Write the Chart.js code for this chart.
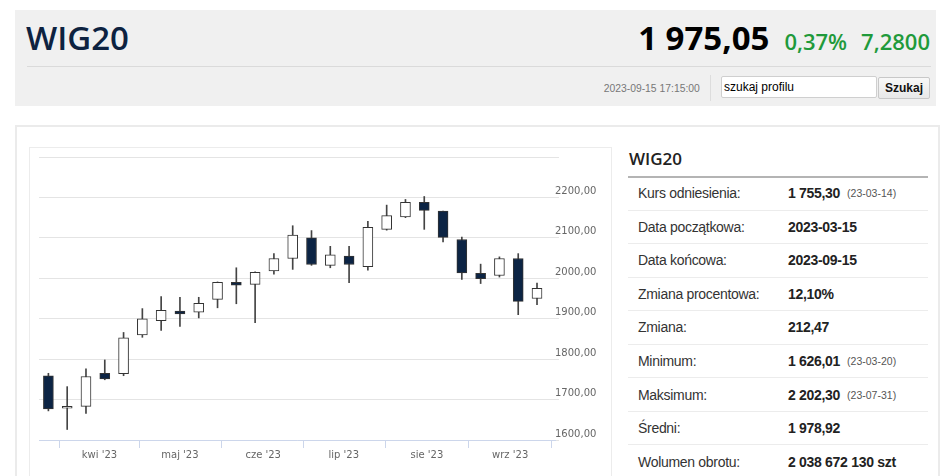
<!DOCTYPE html>
<html lang="pl">
<head>
<meta charset="utf-8">
<script src="https://cdn.jsdelivr.net/npm/chart.js@4/dist/chart.umd.min.js"></script>
<style>
html,body{margin:0;padding:0;background:#fff;width:948px;height:476px;overflow:hidden;font-family:"Liberation Sans",Arial,sans-serif;}
.abs{position:absolute;}
#hdr{left:15px;top:10px;width:921px;height:96px;background:#f0f0f0;}
#title{left:26px;top:18px;font-family:"Open Sans";font-weight:600;font-size:33px;line-height:40px;color:#0d2240;white-space:nowrap;}
#quote{right:18px;top:18px;font-family:"Open Sans";line-height:40px;white-space:nowrap;}
#quote .big{font-weight:700;font-size:33px;color:#000;}
#quote .grn{font-weight:600;font-size:22px;color:#1f9a3b;}
#sep{left:27px;top:66px;width:904px;height:1px;background:#dadada;}
#ts{right:248px;top:80px;font-size:11.5px;color:#777;line-height:16px;white-space:nowrap;transform:scaleX(0.9);transform-origin:right center;}
#vsep{left:710px;top:75px;width:1px;height:26px;background:#dddddd;}
#inp{left:721px;top:76px;width:152px;height:20px;border:1px solid #cfcfcf;border-radius:2px;background:#fff;font-size:12px;line-height:20px;color:#000;padding-left:2px;white-space:nowrap;}
#btn{left:878px;top:77px;width:50px;height:20px;border:1px solid #c8c8c8;border-radius:2px;background:linear-gradient(#f8f8f8,#e8e8e8);font-size:12px;font-weight:bold;line-height:20px;text-align:center;color:#111;}
#outer{left:15px;top:125px;width:921px;height:400px;border:2px solid #ebebeb;}
#cbox{left:29px;top:147px;width:581px;height:400px;border:1px solid #ececec;}
#cv{left:30px;top:148px;}
#ptitle{left:629px;top:149px;font-family:"Open Sans";font-weight:600;font-size:17px;line-height:20px;color:#222;}
#pline{left:628px;top:176px;width:300px;height:2px;background:#b4b4b4;}
#tbl{left:628px;top:177px;width:300px;}
.row{height:32.55px;border-bottom:1px solid #ececec;display:flex;align-items:center;font-size:14px;letter-spacing:-0.3px;color:#333;}
.row .l{width:150px;padding-left:10px;}
.row .v{font-weight:bold;color:#222;}
.row .d{font-size:10.5px;color:#555;margin-left:7px;letter-spacing:0;}
</style>
</head>
<body>
<div id="hdr" class="abs"></div>
<div id="title" class="abs">WIG20</div>
<div id="quote" class="abs"><span class="big">1 975,05</span><span class="grn" style="margin-left:15px">0,37%</span><span class="grn" style="margin-left:14px">7,2800</span></div>
<div id="sep" class="abs"></div>
<div id="ts" class="abs">2023-09-15 17:15:00</div>
<div id="vsep" class="abs"></div>
<div id="inp" class="abs">szukaj profilu</div>
<div id="btn" class="abs">Szukaj</div>
<div id="outer" class="abs"></div>
<div id="cbox" class="abs"></div>
<canvas id="cv" class="abs" width="581" height="328"></canvas>
<div id="ptitle" class="abs">WIG20</div>
<div id="pline" class="abs"></div>
<div id="tbl" class="abs"></div>
<script>
// weekly candles (week start, Monday)
const weeks = ["2023-03-13","2023-03-20","2023-03-27","2023-04-03","2023-04-10","2023-04-17","2023-04-24",
  "2023-05-01","2023-05-08","2023-05-15","2023-05-22","2023-05-29","2023-06-05","2023-06-12","2023-06-19",
  "2023-06-26","2023-07-03","2023-07-10","2023-07-17","2023-07-24","2023-07-31","2023-08-07","2023-08-14",
  "2023-08-21","2023-08-28","2023-09-04","2023-09-11"];
const openP  = [1759,1679,1683,1765,1764,1860,1895,1919,1916,1948,1990,1985,2018,2049,2100,2032,2055,2029,2121,2152,2188,2166,2096,2012,2007,2049,1950];
const highP  = [1765,1732,1776,1798,1866,1925,1955,1953,1953,1991,2026,2016,2061,2130,2118,2079,2079,2141,2181,2195,2202.3,2166,2102,2035,2053,2061,1988];
const lowP   = [1672,1626,1666,1749,1759,1854,1871,1881,1902,1927,1937,1890,2010,2022,2032,2026,1989,2020,2119,2150,2121,2090,1997,1987,2003,1910,1935];
const closeP = [1677,1683,1757,1751,1853,1900,1921,1912,1938,1990,1983,2015,2049,2107,2034,2058,2034,2126,2155,2188,2168,2101,2013,1999,2049,1943,1975.05];
// month ticks
const monthStarts = ["2023-04-01","2023-05-01","2023-06-01","2023-07-01","2023-08-01","2023-09-01"];
const monthLabels = ["kwi '23","maj '23","cze '23","lip '23","sie '23","wrz '23"];
// y ticks
const yTicks = [1600,1700,1800,1900,2000,2100,2200,2300];

// side table
const rowLabels = ["Kurs odniesienia:","Data początkowa:","Data końcowa:","Zmiana procentowa:","Zmiana:","Minimum:","Maksimum:","Średni:","Wolumen obrotu:"];
const rowValues = ["1 755,30","2023-03-15","2023-09-15","12,10%","212,47","1 626,01","2 202,30","1 978,92","2 038 672 130 szt"];
const rowDates  = ["(23-03-14)","","","","","(23-03-20)","(23-07-31)","",""];

const tbl = document.getElementById('tbl');
rowLabels.forEach((l,i)=>{
  const r = document.createElement('div'); r.className='row';
  r.innerHTML = '<span class="l">'+l+'</span><span class="v">'+rowValues[i]+'</span>' + (rowDates[i]?'<span class="d">'+rowDates[i]+'</span>':'');
  tbl.appendChild(r);
});

const toDay = s => Date.parse(s + "T00:00:00Z") / 86400000;
const xs = weeks.map(toDay);
const UP = '#ffffff', DOWN = '#0c2444';

new Chart(document.getElementById('cv'), {
  type: 'bar',
  data: {
    datasets: [
      { label: 'body', data: xs.map((x,i)=>({x:x, y:[openP[i], closeP[i]]})),
        backgroundColor: closeP.map((c,i)=> c >= openP[i] ? UP : DOWN),
        borderColor: '#333333', borderWidth: 1, borderSkipped: false,
        barThickness: 10, grouped: false },
      { label: 'wick', data: xs.map((x,i)=>({x:x, y:[lowP[i], highP[i]]})),
        backgroundColor: '#444444', borderWidth: 0,
        barThickness: 1, grouped: false }
    ]
  },
  options: {
    responsive: false, animation: false, devicePixelRatio: 1,
    layout: { padding: { left: 9, top: 9, right: 0, bottom: 0 } },
    plugins: { legend: { display: false }, tooltip: { enabled: false } },
    scales: {
      x: {
        type: 'linear', offset: false,
        min: xs[0] - 3.5, max: xs[0] + 188.7,
        afterBuildTicks: s => { s.ticks = monthStarts.map(d => ({ value: toDay(d) })); },
        afterFit: s => { s.height = 36; },
        ticks: {
          autoSkip: false, maxRotation: 0, padding: 1, color: '#666666',
          font: { family: 'DejaVu Sans', size: 10 },
          callback: v => { const k = monthStarts.findIndex(d => toDay(d) === v); return k >= 0 ? monthLabels[k] : ''; }
        },
        grid: { drawOnChartArea: false, drawTicks: true, tickLength: 8, color: '#ccd6eb' },
        border: { display: true, color: '#ccd6eb', width: 1 }
      },
      y: {
        position: 'right', min: 1600, max: 2300,
        afterBuildTicks: s => { s.ticks = yTicks.map(v => ({ value: v })); },
        afterFit: s => { s.width = 56; },
        ticks: {
          padding: -4, labelOffset: -6, color: '#666666',
          font: { family: 'DejaVu Sans', size: 10 },
          callback: v => v === 2300 ? '' : v.toFixed(2).replace('.', ',')
        },
        grid: { color: '#e4e4e4', lineWidth: 1, drawTicks: true, tickLength: 4 },
        border: { display: false }
      }
    }
  }
});
</script>
</body>
</html>
